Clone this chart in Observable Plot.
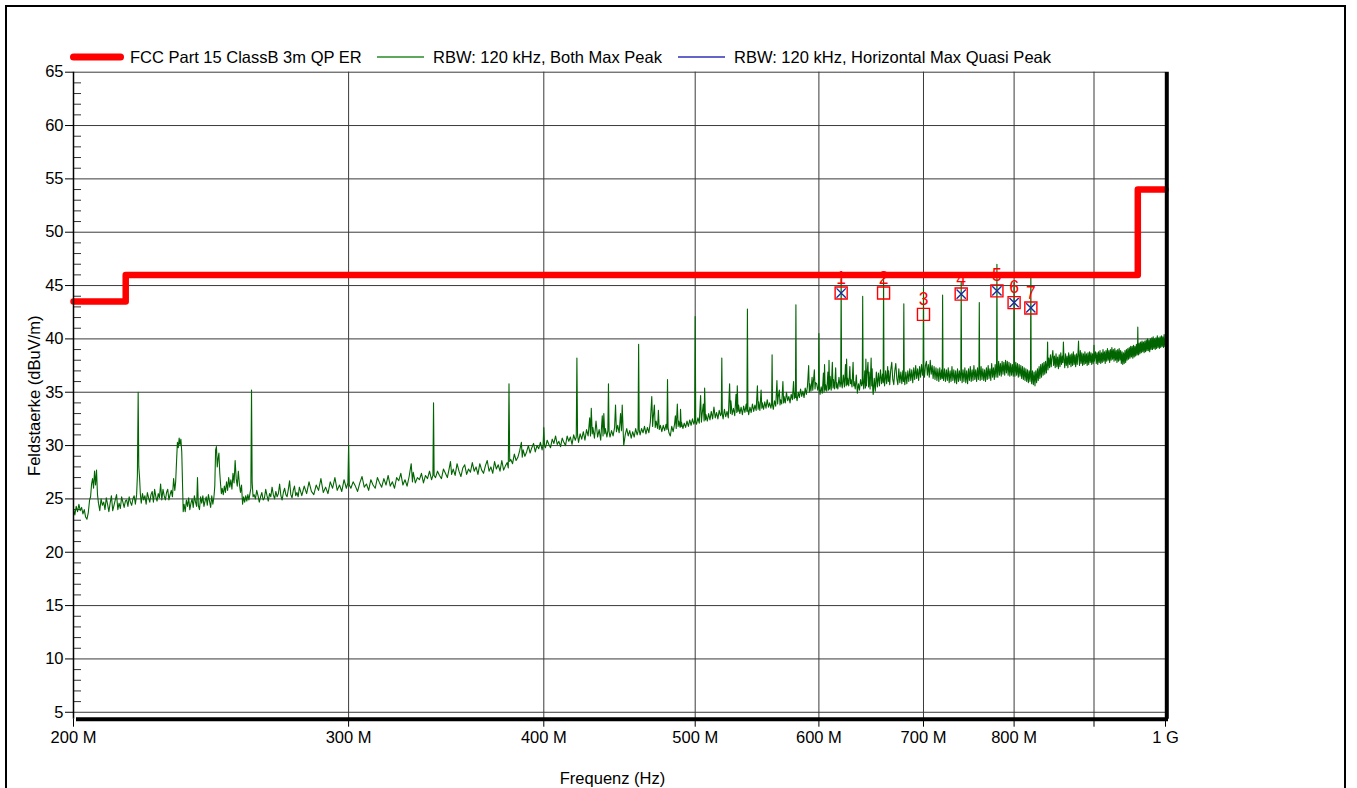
<!DOCTYPE html>
<html>
<head>
<meta charset="utf-8">
<script src="https://cdn.jsdelivr.net/npm/d3@7"></script>
<script src="https://cdn.jsdelivr.net/npm/@observablehq/plot@0.6"></script>
<style>
  html, body { margin: 0; padding: 0; background: #fff; }
  body { font-family: "Liberation Sans", Arial, sans-serif; }
  #wrap { position: relative; width: 1357px; height: 788px; overflow: hidden; }
  #frame { position: absolute; left: 5px; top: 5px; width: 1341px; height: 820px; border: 2px solid #000; box-sizing: border-box; }
  #chart { position: absolute; left: 0; top: 0; }
  #legend { position: absolute; left: 0; top: 47px; width: 1357px; height: 20px; font-size: 16.5px; color: #000; }
  .item { position: absolute; top: 0; height: 20px; display: flex; align-items: center; white-space: nowrap; }
  .item svg { display: block; }
</style>
</head>
<body>
<div id="wrap">
  <div id="frame"></div>
  <div id="chart"></div>
  <div id="legend"></div>
</div>
<script>
// ---------- data ----------
const limitFreqMHz = [200, 216, 960, 1000];
const limitLevel = [43.5, 46, 54, 54];

const markerFreqMHz = [620, 660, 700, 740, 780, 800, 820];
const markerLevel = [44.3, 44.3, 42.3, 44.2, 44.5, 43.4, 42.9];
const markerLabels = ["1", "2", "3", "4", "5", "6", "7"];

const qpFreqMHz = [620, 740, 780, 800, 820];
const qpLevel = [44.3, 44.2, 44.5, 43.4, 42.9];

const xTickValues = [200, 300, 400, 500, 600, 700, 800, 900, 1000];
const xTickLabels = ["200 M", "300 M", "400 M", "500 M", "600 M", "700 M", "800 M", "", "1 G"];
const xGridValues = [300, 400, 500, 600, 700, 800, 900];
const yTickValues = [5, 10, 15, 20, 25, 30, 35, 40, 45, 50, 55, 60, 65];
const yMinorTicks = d3.range(5, 65).filter(v => v % 5 !== 0);

const legendLabels = ["FCC Part 15 ClassB 3m QP ER", "RBW: 120 kHz, Both Max Peak", "RBW: 120 kHz, Horizontal Max Quasi Peak"];

// RBW 120 kHz, Both Max Peak trace: [MHz, dBuV/m]
const peakTrace = [
[200,24.1],[200.4,23.5],[200.8,24.3],[201.2,23.8],[201.6,24.5],[202,23.9],[202.4,24.2],[202.8,23.6],[203.2,24.0],[203.6,23.3],[204,23.1],[204.4,23.7],[204.8,24.9],[205.1,25.2],[205.4,26.4],[205.7,26.9],[206,26.0],[206.3,27.6],[206.6,26.3],[206.9,27.7],[207.2,25.4],
[207.5,24.6],[207.9,23.9],[208.3,25.0],[208.7,24.4],[209.1,24.7],[209.5,24.0],[209.9,25.1],[210.3,24.5],[210.7,23.8],[211.1,24.6],[211.5,25.3],[211.9,23.9],[212.3,24.4],[212.7,24.9],[213.1,25.4],[213.5,24.0],[213.9,24.6],[214.3,24.1],[214.7,25.2],[215.1,24.7],[215.5,24.2],[215.9,24.8],
[216.3,24.9],[216.7,24.3],[217.1,25.2],[217.5,24.7],[217.9,24.4],[218.3,25.0],[218.7,25.3],[219.1,24.5],[219.5,25.4],[219.75,27.2],[220,35.0],[220.2,28.0],[220.45,27.0],[220.7,25.5],
[221,24.6],[221.4,25.5],[221.8,24.9],[222.2,25.3],[222.6,24.5],[223,25.6],[223.4,25.1],[223.8,24.7],[224.2,25.4],[224.6,25.7],[225,24.7],[225.4,25.9],[225.8,25.2],[226.2,24.8],[226.6,25.5],[227,25.1],[227.4,26.4],[227.8,24.9],[228.2,25.9],[228.6,25.3],[229,24.9],[229.4,25.6],[229.8,25.9],[230.2,24.9],[230.6,25.4],[231,25.8],[231.4,25.2],[231.8,26.9],
[232.2,25.8],[232.5,26.6],[232.8,28.5],[233.1,30.3],[233.4,29.8],[233.7,30.7],[234,30.1],[234.3,30.6],[234.6,29.4],[234.9,26.0],[235.1,23.8],
[235.4,24.5],[235.8,23.8],[236.2,24.9],[236.6,24.3],[237,25.1],[237.4,24.0],[237.8,24.6],[238.2,25.0],[238.6,24.2],[239,25.3],[239.4,24.7],[239.8,24.3],[240.1,27.0],[240.4,24.4],[240.8,24.0],[241.2,25.2],[241.6,24.6],[242,25.3],[242.4,24.3],[242.8,24.8],[243.2,25.2],[243.6,24.4],[244,25.4],[244.4,24.8],[244.8,24.2],[245.2,25.3],[245.6,24.5],[246,25.2],
[246.3,26.2],[246.6,29.6],[246.9,29.9],[247.2,28.0],[247.5,28.8],[247.8,29.3],[248.1,27.5],[248.4,26.4],[248.7,25.5],[249,26.0],[249.4,25.4],[249.8,26.2],[250.2,25.6],[250.6,26.6],[251,25.8],[251.4,27.0],[251.8,26.1],[252.2,26.8],[252.6,25.9],[253,27.4],[253.4,26.5],[253.8,28.6],[254.2,26.9],[254.6,26.2],[255,27.6],[255.4,26.4],[255.8,25.6],[256.2,26.3],[256.6,24.5],[257,25.2],[257.4,24.7],[257.8,25.3],[258.2,24.8],[258.6,25.4],[259,24.9],[259.4,25.5],[259.75,26.0],[260,35.2],[260.25,26.5],[260.6,25.2],
[261,25.4],[261.5,25.0],[262,25.8],[262.5,25.3],[263,24.7],[263.5,25.2],[264,25.6],[264.5,24.9],[265,25.1],[265.5,25.9],[266,25.3],[266.5,24.8],[267,25.5],[267.5,25.2],[268,26.1],[268.5,25.4],[269,25.0],[269.5,25.7],[270,25.2],[270.5,25.5],[271,26.4],[271.5,25.3],[272,24.9],[272.5,25.6],[273,26.0],[273.5,25.4],[274,25.2],[274.5,25.9],[275,26.7],[275.5,25.4],[276,25.1],[276.5,25.8],[277,26.2],[277.5,25.3],[278,25.6],[278.5,25.2],[279,26.1],[279.5,25.7],[280,25.3],[281,26.2],[282,25.5],[283,26.6],[284,25.7],[285,25.4],[286,26.3],[287,25.8],[288,26.9],[289,25.6],[290,26.1],[291,25.5],[292,26.6],[293,26.0],[294,27.0],[295,25.8],[296,26.3],[297,25.7],[298,26.8],[299,26.0],[299.7,26.5],[300,30.0],[300.3,26.3],
[301,26.0],[302,26.6],[303,26.2],[304,25.7],[305,26.5],[306,27.1],[307,26.1],[308,26.4],[309,25.8],[310,26.8],[311,26.3],[312,26.0],[313,27.0],[314,26.5],[315,26.1],[316,26.9],[317,26.3],[318,27.2],[319,26.2],[320,26.6],[321,26.0],[322,27.0],[323,26.7],[324,27.4],[325,26.3],[326,26.8],[327,26.2],[328,27.1],[329,28.3],[329.6,26.6],[330,27.5],[331,26.5],[332,27.0],[333,26.8],[334,27.4],[335,26.5],[336,27.2],[337,26.9],[338,27.6],[339,26.8],[339.7,27.2],[340,34.0],[340.3,27.2],
[341,27.0],[342,27.6],[343,27.2],[344,26.9],[345,27.8],[346,27.4],[347,27.0],[348,27.9],[348.6,28.5],[349.2,27.3],[350,27.8],[351,27.2],[352,28.3],[353,27.6],[354,27.1],[355,27.9],[356,28.2],[357,27.3],[358,27.8],[359,27.5],[360,28.4],[361,27.6],[362,28.0],[363,27.3],[364,28.3],[365,27.7],[366,27.4],[367,28.1],[368,28.6],[369,27.6],[370,28.0],[371,27.4],[372,28.5],[373,27.8],[374,28.2],[375,27.6],[376,28.6],[377,27.7],[378,28.1],[379,28.4],[379.6,27.9],[380,35.8],[380.4,28.5],
[381,28.7],[382,28.3],[383,29.2],[384,28.6],[385,28.9],[386,29.5],[387,30.3],[387.5,28.9],[388,29.6],[389,29.0],[390,29.4],[391,30.0],[392,29.3],[393,29.8],[394,30.2],[395,29.4],[396,30.0],[397,29.7],[398,30.3],[399,29.6],[399.6,30.1],[400,31.7],[400.4,30.0],
[401,29.8],[402,30.5],[403,30.1],[404,29.8],[405,30.6],[406,30.2],[407,30.9],[408,30.1],[409,30.4],[410,29.9],[411,30.7],[412,30.3],[413,30.0],[414,30.9],[415,30.4],[416,30.8],[417,30.1],[418,31.0],[419,30.5],[419.6,30.8],[420,38.2],[420.4,31.0],[421,30.3],[422,31.1],[423,30.6],[424,31.3],[425,30.5],[426,31.5],[427,30.9],[428,32.6],[428.5,30.9],[429,33.5],[429.6,31.1],[430,31.7],[431,30.7],[432,32.3],[433,30.8],[434,31.5],[435,30.5],[436,32.8],[436.5,30.9],[437,33.0],[437.6,31.1],[438,31.6],[439,30.8],[439.6,31.4],[440,35.8],[440.4,31.3],
[441,30.8],[442,31.4],[443,30.9],[444,31.7],[444.6,33.8],[445.2,31.3],[446,31.9],[447,31.2],[447.9,33.0],[448.5,31.4],[449,33.8],[449.6,31.5],[450,30.0],[451,31.0],[452,31.6],[453,30.9],[454,31.4],[455,30.7],[456,31.3],[457,30.8],[458,31.6],[459,31.0],[459.6,31.3],[460,39.5],[460.4,31.5],[461,31.0],[462,31.6],[463,31.2],[464,31.8],[465,31.1],[466,31.7],[467,31.2],[468,32.2],[469,34.6],[469.6,31.8],[470,32.6],[470.8,33.8],[471.4,31.7],[472,32.3],[473,31.6],[473.6,33.3],[474.2,31.5],[475,31.9],[476,31.3],[477,31.9],[478,31.4],[479,32.0],[479.6,31.5],[480,36.2],[480.4,31.7],[481,31.2],[482,30.9],[483,31.8],[484,31.3],[485,32.0],[485.6,32.8],[486.2,31.6],[487,33.9],[487.6,31.8],[488,32.3],[489,31.7],[489.3,33.4],[489.8,31.8],[490,32.2],[491,31.6],[492,32.1],[493,31.7],[494,32.3],[495,31.8],[496,32.4],[497,31.9],[498,32.5],[499,32.0],[499.6,32.3],[500,42.1],[500.4,32.2],
[501,32.0],[502,32.6],[503,32.1],[504,34.7],[504.6,32.2],[505,32.8],[506,33.9],[506.6,32.3],[507,35.4],[507.6,32.4],[508,32.9],[509,32.3],[510,33.0],[511,32.4],[512,33.2],[513,32.5],[514,33.6],[515,32.6],[516,33.1],[517,32.5],[518,33.3],[519,32.8],[519.6,33.0],[520,38.2],[520.4,32.9],[521,32.5],[522,33.4],[523,32.7],[524,33.2],[525,32.6],[526,35.8],[526.6,33.0],[527,34.2],[528,32.9],[529,33.5],[530,32.8],[531,34.8],[531.6,33.1],[532,35.6],[532.6,33.2],[533,33.8],[534,33.0],[535,33.6],[536,32.9],[537,33.7],[538,33.1],[539,33.9],[539.6,33.2],[540,42.8],[540.4,33.4],[541,32.9],[542,33.6],[543,33.1],[544,33.9],[545,33.2],[546,33.8],[547,33.3],[548,35.6],[548.6,33.4],[549,34.1],[550,33.3],[551,35.2],[551.6,33.5],[552,34.0],[553,33.4],[554,34.1],[555,33.5],[556,34.3],[557,33.6],[558,34.0],[559,33.5],[559.6,33.9],[560,38.5],[560.4,33.8],[561,33.4],[562,34.2],[563,33.7],[564,36.1],[564.6,33.9],[565,34.5],[566,35.2],[566.6,33.8],[567,34.3],[568,33.9],[569,36.0],[569.6,34.0],[570,34.6],[571,34.0],[572,35.0],[573,34.2],[574,34.6],[575,34.0],[576,34.8],[577,34.3],[578,36.0],[578.6,34.4],[579,34.9],[579.6,34.5],[580,43.2],[580.4,34.6],[581,34.2],[582,35.0],[583,34.5],[584,35.3],[585,34.6],[586,35.1],[587,34.5],[588,35.4],[589,34.8],[590,35.6],[591,37.5],[591.6,35.0],[592,35.8],[593,35.1],[594,36.4],[594.6,35.2],[595,35.8],[596,37.1],[596.6,35.3],[597,35.9],[598,35.8],[599,35.2],[599.6,35.5],[600,40.5],[600.4,35.3],
[601,34.8],[602,35.5],[603,34.9],[604,36.8],[604.6,35.0],[605,37.6],[605.6,35.2],[606,35.7],[607,35.1],[608,36.9],[608.6,35.2],[609,38.0],[609.6,35.3],[610,36.5],[611,35.2],[612,37.8],[612.6,35.4],[613,36.2],[614,35.3],[615,37.3],[615.6,35.4],[616,35.9],[617,35.3],[618,36.4],[619,35.5],[619.6,36.0],[620,45.6],[620.4,35.8],[621,35.4],[622,36.6],[623,35.5],[624,37.6],[624.6,35.6],[625,38.1],[625.6,35.7],[626,36.3],[627,35.6],[628,37.4],[628.6,35.8],[629,36.2],[630,35.5],[631,37.8],[631.6,35.6],[632,36.0],[633,35.3],[634,36.6],[635,34.9],[636,35.8],[637,35.2],[638,36.2],[639,35.6],[639.6,35.9],[640,44.0],[640.4,35.9],
[641,35.3],[642,37.0],[642.6,35.4],[643,38.1],[643.6,35.6],[644,36.6],[645,37.8],[645.6,35.5],[646,36.9],[647,35.3],[648,38.2],[648.6,35.6],[649,37.2],[649.6,35.2],[650,34.8],[651,36.3],[652,35.1],[653,36.9],[654,35.5],[655,36.8],[656,35.6],[657,37.1],[658,35.8],[659,36.7],[659.6,35.9],[660,46.2],[660.4,36.3],[661,35.6],[662,37.0],[663,35.8],[664,37.4],[664.6,36.0],[665,37.0],[666,35.7],[667,37.1],[668,37.8],[669,36.2],[670,35.7],[671,37.0],[672,37.7],[673,36.3],[674,35.7],[675,37.2],[676,35.9],[677,36.9],[678,35.8],[679,37.0],[679.6,36.0],[680,43.3],[680.4,36.4],[681,35.7],[682,36.9],[683,35.8],[684,37.0],[685,36.0],[686,37.2],[687,36.1],[688,37.1],[689,35.9],[690,37.3],[691,36.2],[692,37.5],[693,36.3],[694,37.2],[695,36.1],[696,37.4],[697,36.4],[698,37.6],[699,36.6],[699.6,37.2],[700,44.8],[700.4,37.0],
[701,36.4],[702,37.5],[703,37.9],[704,36.6],[705,37.6],[706,36.4],[707,38.0],[708,36.7],[709,37.5],[710,36.3],[711,37.4],[712,36.2],[713,37.3],[714,36.1],[715,37.2],[716,36.0],[717,37.3],[718,36.2],[719,37.1],[719.6,36.3],[720,44.1],[720.4,36.9],[721,36.1],[722,37.2],[723,36.0],[724,37.1],[725,36.1],[726,37.3],[727,35.9],[728,37.0],[729,36.0],[730,37.4],[731,36.1],[732,37.1],[733,35.9],[734,37.0],[735,35.8],[736,37.2],[737,36.0],[738,37.0],[739,36.1],[739.6,37.0],[740,45.3],[740.4,36.9],[741,35.9],[742,37.1],[743,36.0],[744,37.3],[745,35.9],[746,37.0],[747,35.8],[748,37.2],[749,36.1],[750,37.4],[751,36.0],[752,37.1],[753,36.1],[754,37.5],[755,36.2],[756,37.1],[757,36.0],[758,37.3],[759,36.2],[759.6,37.1],[760,43.4],[760.4,37.0],[761,36.1],[762,37.4],[763,36.2],[764,37.2],[765,36.1],[766,37.1],[767,36.0],[768,37.3],[769,36.2],[770,37.5],[771,36.3],[772,37.2],[773,36.1],[774,37.7],[775,36.4],[776,37.3],[777,36.2],[778,37.6],[779,36.4],[779.6,37.2],[780,47.0],[780.4,37.3],[781,36.4],[782,37.9],[783,36.6],[784,37.7],[785,36.5],[786,37.9],[787,36.7],[788,37.8],[789,36.6],[790,38.0],[791,36.8],[792,37.9],[793,36.6],[794,37.8],[795,36.5],[796,37.7],[797,36.6],[798,37.6],[799,36.5],[799.6,37.4],[800,45.3],[800.4,37.4],
[801,36.5],[802,37.8],[803,36.6],[804,37.7],[805,36.4],[806,37.6],[807,36.5],[808,37.5],[809,36.3],[810,37.4],[811,36.2],[812,37.3],[813,36.1],[814,37.2],[815,36.0],[816,37.1],[817,35.9],[818,37.0],[819,36.0],[819.6,37.0],[820,46.2],[820.4,36.8],[821,35.8],[822,37.0],[823,35.7],[824,36.9],[825,35.6],[826,37.0],[827,35.9],[828,37.2],[829,36.1],[830,37.4],[831,36.3],[832,37.6],[833,36.4],[834,37.7],[835,36.6],[836,37.8],[837,36.7],[838,37.9],[839,36.8],[840,38.0],[840.5,39.7],[841,37.1],
[842,38.2],[843,37.3],[844,38.5],[845,37.4],[846,38.3],[847,38.9],[848,37.5],[849,38.4],[850,37.3],[851,38.6],[852,37.4],[853,38.3],[854,37.2],[855,38.5],[856,37.4],[857,38.7],[858,37.6],[859,38.4],[859.6,37.8],[860.3,39.7],[861,38.2],[862,37.3],[863,38.6],[864,37.5],[865,38.4],[866,37.3],[867,38.7],[868,37.6],[869,38.5],[870,37.4],[871,38.6],[872,37.5],[873,38.8],[874,37.6],[875,38.5],[876,37.4],[877,38.6],[878,37.6],[879,38.7],[879.7,39.8],[880.4,38.0],[881,37.5],[882,38.9],[883,37.7],[884,38.7],[885,37.5],[886,38.6],[887,37.6],[888,38.8],[889,37.7],[890,38.6],[891,37.5],[892,38.7],[893,37.6],[894,38.8],[895,37.8],[896,38.7],[897,37.6],[898,38.6],[899,37.7],[899.6,38.4],[900,39.4],[900.5,37.9],[902,38.8],[903,37.7],[904,38.7],[905,37.6],[906,38.8],[907,37.8],[908,38.9],[909,37.7],[910,38.7],[911,37.8],[912,39.0],[913,37.9],[914,38.8],[915,37.7],[916,38.9],[917,37.9],[918,39.1],[919,38.0],[920,38.9],[921,37.8],[922,39.0],[923,38.0],[924,39.2],[925,38.1],[926,39.0],[927,37.9],[928,39.1],[929,38.0],[930,38.9],[931,37.8],[932,39.0],[933,37.9],[934,39.1],[935,38.0],[936,38.9],[937,37.7],[938,38.8],[939,37.6],[940,38.7],[941,37.7],[942,38.9],[943,37.8],[944,39.0],[945,38.0],[946,39.1],[947,38.1],[948,39.2],[949,38.2],[950,39.3],[951,38.3],[952,39.3],[953,38.2],[954,39.4],[955,38.3],[956,39.3],[957,38.4],[958,39.5],[959,38.5],[959.6,39.2],[960,41.1],[960.5,38.8],[961,38.5],[962,39.6],[963,38.6],[964,39.7],[965,38.7],[966,39.8],[967,38.8],[968,39.7],[969,38.7],[970,39.8],[971,38.8],[972,39.9],[973,38.9],[974,40.0],[975,38.9],[976,39.9],[977,38.8],[978,40.0],[979,39.0],[980,40.1],[981,39.0],[982,40.2],[983,39.1],[984,40.0],[985,39.0],[986,40.1],[987,39.1],[988,40.3],[989,39.2],[990,40.1],[991,39.1],[992,40.2],[993,39.2],[994,40.3],[995,39.3],[996,40.2],[997,39.2],[998,40.4],[999,39.3],[1000,39.9]
];

// ---------- derived tables ----------
const limitData = limitFreqMHz.map((f, i) => ({f, v: limitLevel[i]}));
const markers = markerFreqMHz.map((f, i) => ({f, v: markerLevel[i], label: markerLabels[i]}));
const qpData = qpFreqMHz.map((f, i) => ({f, v: qpLevel[i]}));

const COLORS = {limit: "#ff0000", peak: "#006400", qp: "#1f2a9c", grid: "#3a3a3a"};
const yDomain = [4.35, 65];
const FONT = "'Liberation Sans', Arial, Helvetica, sans-serif";

const chart = Plot.plot({
  width: 1357,
  height: 788,
  marginTop: 71.7,
  marginBottom: 69.3,
  marginLeft: 73,
  marginRight: 192,
  style: {fontFamily: FONT, fontSize: "16.5px", background: "transparent", color: "#000", overflow: "visible"},
  x: {type: "log", domain: [200, 1000]},
  y: {domain: yDomain},
  marks: [
    Plot.gridY(yTickValues, {stroke: COLORS.grid, strokeOpacity: 1, strokeWidth: 1}),
    Plot.gridX(xGridValues, {stroke: COLORS.grid, strokeOpacity: 1, strokeWidth: 1}),
    Plot.tickY(yMinorTicks, {y: d => d, insetRight: 1084, stroke: "#333", strokeWidth: 1}),
    Plot.line(peakTrace, {x: d => d[0], y: d => d[1], stroke: COLORS.peak, strokeWidth: 1.1}),
    Plot.text(markers, {x: "f", y: "v", text: "label", dy: -15, fill: COLORS.limit, fontSize: 17.5}),
    Plot.line(limitData, {x: "f", y: "v", curve: "step-after", stroke: COLORS.limit, strokeWidth: 6.5, strokeLinejoin: "round"}),
    Plot.ruleX([200], {stroke: "#000", strokeWidth: 1.5}),
    Plot.ruleY([yDomain[0]], {x1: 200, x2: 1000, dx: 3, stroke: "#000", strokeWidth: 4}),
    Plot.ruleX([1000], {y1: yDomain[0], y2: 65, dx: 1.3, stroke: "#000", strokeWidth: 4}),
    Plot.axisY(yTickValues, {anchor: "left", tickSize: 8, tickPadding: 2, fontSize: 16.5, label: null}),
    Plot.axisX(xTickValues, {anchor: "bottom", tickSize: 8, tickPadding: 4, fontSize: 16.5, label: null,
      tickFormat: d => xTickLabels[xTickValues.indexOf(d)]}),
    Plot.text(["Feldstaerke (dBuV/m)"], {frameAnchor: "left", textAnchor: "middle", lineAnchor: "middle", rotate: -90, dx: -39, fontSize: 16.5, fill: "#000"}),
    Plot.text(["Frequenz (Hz)"], {frameAnchor: "bottom", textAnchor: "middle", lineAnchor: "middle", dy: 59.5, dx: -7, fontSize: 16.5, fill: "#000"}),
    Plot.dot(markers, {x: "f", y: "v", symbol: "square", r: 6.8, stroke: COLORS.limit, fill: "none", strokeWidth: 1.4}),
    Plot.dot(qpData, {x: "f", y: "v", symbol: "times", r: 4.3, stroke: COLORS.qp, strokeWidth: 1.4})
  ]
});
document.getElementById("chart").appendChild(chart);

// ---------- legend (HTML, above the plot area) ----------
const legendItems = [
  {label: legendLabels[0], color: COLORS.limit, width: 7, left: 68, swatch: 58, lineFrom: 5.5, lineTo: 52.5, cap: "round", gap: 4},
  {label: legendLabels[1], color: "#2a8a2a", width: 1.3, left: 377, swatch: 47, lineFrom: 0, lineTo: 47, cap: "butt", gap: 9},
  {label: legendLabels[2], color: "#3030b8", width: 1.3, left: 678, swatch: 47, lineFrom: 0, lineTo: 47, cap: "butt", gap: 9}
];
const legend = document.getElementById("legend");
for (const it of legendItems) {
  const div = document.createElement("div");
  div.className = "item";
  div.style.left = it.left + "px";
  div.innerHTML = `<svg width="${it.swatch}" height="20"><line x1="${it.lineFrom}" y1="10" x2="${it.lineTo}" y2="10" stroke="${it.color}" stroke-width="${it.width}" stroke-linecap="${it.cap}"/></svg><span style="margin-left:${it.gap}px">${it.label}</span>`;
  legend.appendChild(div);
}
</script>
</body>
</html>
